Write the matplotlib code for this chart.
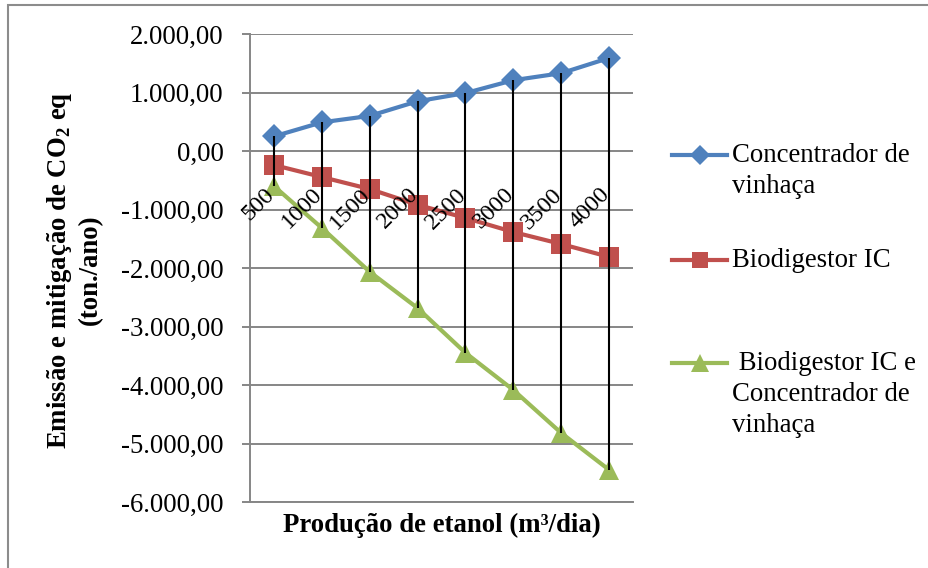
import numpy as np
import matplotlib
matplotlib.use('Agg')
import matplotlib.pyplot as plt
from matplotlib.lines import Line2D
from matplotlib.patches import Rectangle

# dados
producao = ['500', '1000', '1500', '2000', '2500', '3000', '3500', '4000']
concentrador = [250, 490, 600, 850, 990, 1210, 1330, 1590]
biodigestor = [-240, -445, -650, -920, -1145, -1385, -1590, -1810]
biodigestor_conc = [-600, -1315, -2065, -2685, -3450, -4085, -4820, -5450]
yticks = [2000, 1000, 0, -1000, -2000, -3000, -4000, -5000, -6000]

series = [
    (concentrador, 'Concentrador de\nvinhaça', '#4F81BD', 'D', 12.5),
    (biodigestor, 'Biodigestor IC', '#C0504D', 's', 14),
    (biodigestor_conc, ' Biodigestor IC e\nConcentrador de\nvinhaça', '#9BBB59', '^', 15),
]

plt.rcParams['font.family'] = ['Liberation Serif', 'DejaVu Serif']
plt.rcParams['mathtext.fontset'] = 'custom'
plt.rcParams['mathtext.rm'] = 'Liberation Serif:bold'
plt.rcParams['mathtext.bf'] = 'Liberation Serif:bold'

W, H = 929, 568
fig = plt.figure(figsize=(W / 100, H / 100), dpi=100)
ax = fig.add_axes([250 / W, 1 - 502 / H, 383 / W, 468 / H])

cinza = '#868686'
fs = 19.3
x = np.arange(len(producao))

for valores, nome, cor, marca, ms in series:
    ax.plot(x, valores, color=cor, lw=3, marker=marca, ms=ms,
            markeredgewidth=0, zorder=3)

# linhas verticais entre o máximo e o mínimo
todos = np.array([concentrador, biodigestor, biodigestor_conc])
ax.vlines(x, todos.min(axis=0), todos.max(axis=0), color='black', lw=1.5, zorder=4)

ax.set_xlim(-0.5, len(producao) - 0.5)
ax.set_ylim(-6000, 2000)
ax.set_yticks(yticks)
ax.set_yticklabels([f'{v:,.2f}'.replace(',', 'X').replace('.', ',').replace('X', '.') for v in yticks],
                   fontsize=fs)
ax.set_xticks([])
ax.grid(axis='y', color=cinza, lw=1.4)
ax.set_axisbelow(True)
ax.tick_params(axis='y', color=cinza, width=1.4, length=6, pad=13)
for lado in ['top', 'right']:
    ax.spines[lado].set_visible(False)
for lado in ['left', 'bottom']:
    ax.spines[lado].set_color(cinza)
    ax.spines[lado].set_linewidth(1.4)

# rótulos das categorias junto ao eixo em zero
for i, rot in enumerate(producao):
    ax.annotate(rot, xy=(i, 0), xytext=(5, -33), textcoords='offset pixels',
                rotation=45, ha='right', va='top', fontsize=17.5, zorder=5)

ax.set_xlabel('Produção de etanol (m³/dia)', fontsize=fs, fontweight='bold', labelpad=8)

fig.text(60 / W, 1 - 270 / H, 'Emissão e mitigação de CO$_2$ eq', rotation=90,
         ha='center', va='center', fontsize=fs, fontweight='bold')
fig.text(90 / W, 1 - 270 / H, '(ton./ano)', rotation=90,
         ha='center', va='center', fontsize=fs, fontweight='bold')

# legenda
leg_y = [155, 260, 363]
for (valores, nome, cor, marca, ms), yy in zip(series, leg_y):
    fy = 1 - yy / H
    fig.add_artist(Line2D([672 / W, 727 / W], [fy, fy], color=cor, lw=3,
                          transform=fig.transFigure))
    fig.add_artist(Line2D([700 / W], [fy], color=cor, marker=marca, ms=ms * 0.85,
                          markeredgewidth=0, transform=fig.transFigure))
    fig.text(732 / W, fy + 12 / H, nome, ha='left', va='top', fontsize=fs,
             linespacing=1.32)

fig.add_artist(Rectangle((8 / W, -0.1), 1.2, 1.1 - 5 / H, transform=fig.transFigure,
                         fill=False, edgecolor='#8c8c8c', lw=1.5))

fig.savefig('out.png', dpi=100)
